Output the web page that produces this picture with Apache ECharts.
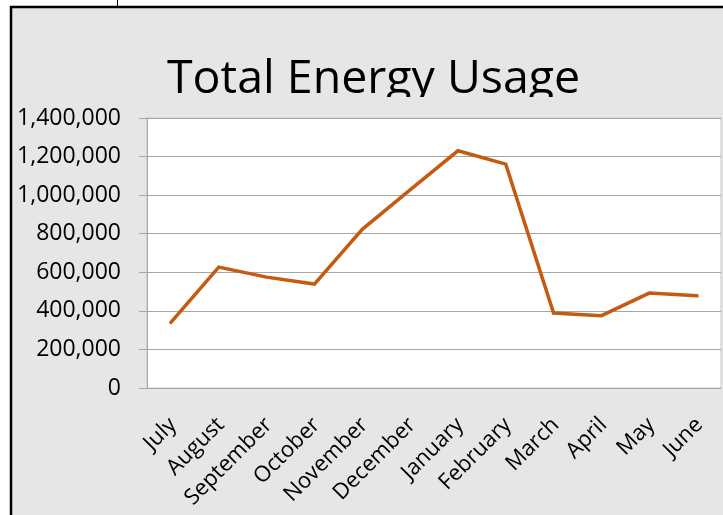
<!DOCTYPE html>
<html>
<head>
<meta charset="utf-8">
<script src="https://cdn.jsdelivr.net/npm/echarts@6/dist/echarts.min.js"></script>
<style>html,body{margin:0;padding:0;background:#fff}#c{width:723px;height:515px}</style>
</head>
<body>
<div id="c"></div>
<script>
const months = ['July','August','September','October','November','December','January','February','March','April','May','June'];
const energyUsage = [340000, 627000, 575000, 539000, 823000, 1027000, 1230000, 1161000, 389000, 375000, 492000, 478000];
const yTicks = [0, 200000, 400000, 600000, 800000, 1000000, 1200000, 1400000];
const titleText = 'Total Energy Usage';

const FONT = '"Open Sans", sans-serif';
const chart = echarts.init(document.getElementById('c'));
chart.setOption({
  backgroundColor: '#e6e6e6',
  animation: false,
  title: {
    text: titleText,
    left: 162,
    top: 50,
    textStyle: { fontFamily: FONT, fontSize: 46.5, fontWeight: 'normal', color: '#000', lineHeight: 50 }
  },
  grid: { left: 147, right: 2, top: 118, bottom: 127, show: true, backgroundColor: '#fff', borderColor: '#c8c8c8', borderWidth: 1 },
  xAxis: {
    type: 'category',
    data: months,
    boundaryGap: true,
    axisLine: { lineStyle: { color: '#a6a6a6', width: 1 } },
    axisTick: { show: false },
    axisLabel: { rotate: 45, margin: 20, interval: 0, verticalAlign: 'top', padding: [0, 8, 0, 0], fontFamily: FONT, fontSize: 22, color: '#000' }
  },
  yAxis: {
    type: 'value',
    min: yTicks[0],
    max: yTicks[yTicks.length - 1],
    interval: yTicks[1] - yTicks[0],
    axisLine: { show: true, lineStyle: { color: '#a6a6a6', width: 1 } },
    axisTick: { show: true, length: 8, lineStyle: { color: '#a6a6a6' } },
    splitLine: { lineStyle: { color: '#a6a6a6', width: 1 } },
    axisLabel: { margin: 26, fontFamily: FONT, fontSize: 23, color: '#000',
      formatter: v => v.toLocaleString('en-US') }
  },
  series: [{
    type: 'line',
    data: energyUsage,
    symbol: 'none',
    lineStyle: { color: '#c55a11', width: 3.5, cap: 'round', join: 'miter' }
  }],
  graphic: [
    { type: 'rect', z: 100, shape: { x: 150, y: 97, width: 460, height: 14 }, style: { fill: '#e6e6e6' } },
    { type: 'rect', z: 100, shape: { x: 0, y: 0, width: 723, height: 6 }, style: { fill: '#fff' } },
    { type: 'rect', z: 100, shape: { x: 0, y: 0, width: 10, height: 515 }, style: { fill: '#fff' } },
    { type: 'line', z: 101, shape: { x1: 10, y1: 7, x2: 723, y2: 7 }, style: { stroke: '#000', lineWidth: 2.5 } },
    { type: 'line', z: 101, shape: { x1: 11, y1: 6, x2: 11, y2: 515 }, style: { stroke: '#000', lineWidth: 2.5 } },
    { type: 'line', z: 101, shape: { x1: 117.5, y1: 0, x2: 117.5, y2: 6 }, style: { stroke: '#000', lineWidth: 1 } }
  ]
});
</script>
</body>
</html>
